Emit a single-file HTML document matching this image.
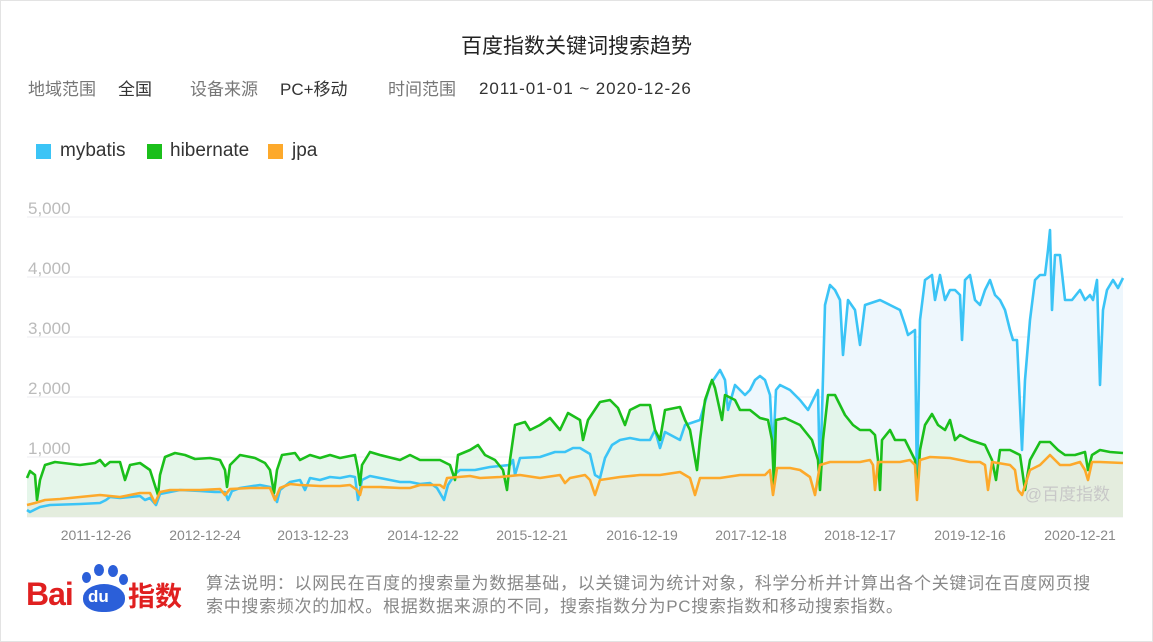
<!DOCTYPE html>
<html><head><meta charset="utf-8"><style>
body{margin:0;width:1153px;height:642px;background:#fff;font-family:"Liberation Sans","Noto Sans CJK SC",sans-serif;overflow:hidden}
.frame{position:absolute;left:0;top:0;width:1151px;height:640px;border:1px solid #e3e3e3}
.t{position:absolute;white-space:nowrap}
.sq{position:absolute;width:15px;height:15px;top:144px}
</style></head><body><div class="frame"></div>
<div class="t" style="left:0;width:1153px;text-align:center;top:30px;font-size:21px;color:#222">百度指数关键词搜索趋势</div>
<div class="t" style="left:28px;top:75px;font-size:17px;color:#777">地域范围</div>
<div class="t" style="left:118px;top:75px;font-size:17px;color:#333">全国</div>
<div class="t" style="left:190px;top:75px;font-size:17px;color:#777">设备来源</div>
<div class="t" style="left:280px;top:75px;font-size:17px;color:#333">PC+移动</div>
<div class="t" style="left:388px;top:75px;font-size:17px;color:#777">时间范围</div>
<div class="t" style="left:479px;top:79px;font-size:17px;color:#333;letter-spacing:0.9px">2011-01-01 ~ 2020-12-26</div>
<div class="sq" style="left:36px;background:#3bc4f6"></div>
<div class="sq" style="left:147px;background:#1bbf1b"></div>
<div class="sq" style="left:268px;background:#fda92b"></div>
<div class="t" style="left:60px;top:140px;font-size:19px;color:#333">mybatis</div>
<div class="t" style="left:170px;top:140px;font-size:19px;color:#333">hibernate</div>
<div class="t" style="left:292px;top:140px;font-size:19px;color:#333">jpa</div>
<svg width="1153" height="642" style="position:absolute;left:0;top:0" font-family="Liberation Sans,sans-serif">
<g stroke="#eceef0" stroke-width="1">
<line x1="27" x2="1123" y1="217" y2="217"/><line x1="27" x2="1123" y1="277" y2="277"/><line x1="27" x2="1123" y1="337" y2="337"/><line x1="27" x2="1123" y1="397" y2="397"/><line x1="27" x2="1123" y1="457" y2="457"/><line x1="27" x2="1123" y1="517" y2="517"/></g>
<g fill="#bbb" font-size="17"><text x="28" y="214">5,000</text><text x="28" y="274">4,000</text><text x="28" y="334">3,000</text><text x="28" y="394">2,000</text><text x="28" y="454">1,000</text></g>
<g fill="#888" font-size="14" text-anchor="middle"><text x="96" y="540">2011-12-26</text><text x="205" y="540">2012-12-24</text><text x="313" y="540">2013-12-23</text><text x="423" y="540">2014-12-22</text><text x="532" y="540">2015-12-21</text><text x="642" y="540">2016-12-19</text><text x="751" y="540">2017-12-18</text><text x="860" y="540">2018-12-17</text><text x="970" y="540">2019-12-16</text><text x="1080" y="540">2020-12-21</text></g>
<polygon fill="#eef7fd" points="27,517 27,510 30,512 40,507 50,505 80,504 100,503 106,500 110,497 120,498 140,496 145,500 150,498 156,505 160,494 170,492 180,490 200,491 215,492 225,492 228,500 232,491 240,488 260,485 270,487 277,502 280,490 290,482 300,480 305,490 310,478 320,480 330,477 340,478 350,476 355,477 358,500 362,480 370,476 380,478 400,482 410,482 420,484 430,483 437,488 444,500 448,485 455,474 460,470 465,470 475,470 490,467 500,466 510,465 513,460 515,475 520,458 540,457 555,452 565,452 573,448 580,448 590,454 595,475 600,478 605,458 612,445 620,440 630,438 640,440 650,440 655,430 660,448 665,432 680,440 685,425 700,420 710,385 720,370 725,380 728,410 735,385 745,395 750,390 755,380 760,376 765,380 770,395 773,455 776,390 780,385 790,390 800,400 808,410 818,390 820,485 825,305 830,285 835,290 840,300 843,355 848,300 855,310 860,345 865,305 880,300 890,305 900,310 905,325 908,335 915,330 917,490 920,320 925,280 932,275 935,300 940,275 945,300 950,290 955,290 960,295 962,340 965,280 970,275 975,300 980,305 985,290 990,280 995,295 1000,300 1005,310 1010,330 1013,340 1017,340 1022,450 1025,380 1030,320 1035,280 1040,275 1045,275 1048,250 1050,230 1052,310 1055,255 1060,255 1065,300 1072,300 1080,290 1085,300 1090,295 1093,300 1097,280 1100,385 1103,310 1107,290 1113,280 1118,288 1123,278 1123,517"/>
<polygon fill="#e0f4e6" fill-opacity="0.85" points="27,517 27,478 30,471 35,475 37,500 40,480 45,465 55,462 80,465 95,463 100,460 105,466 110,462 120,462 125,480 130,465 140,463 150,470 158,495 160,475 165,457 175,453 185,455 195,459 210,458 220,460 225,470 227,487 230,465 240,455 255,458 265,463 270,470 274,493 277,470 282,455 295,453 300,460 310,455 320,458 330,455 340,458 350,456 355,455 358,470 360,485 362,465 370,452 380,455 400,460 410,455 420,460 440,460 450,465 455,480 458,455 470,450 478,445 485,455 495,460 503,470 507,490 510,460 515,425 525,422 530,430 540,425 550,418 560,430 568,413 580,420 583,440 588,420 600,402 610,400 618,408 625,425 630,410 640,405 650,405 655,430 660,440 665,410 680,407 685,420 690,430 697,470 700,440 705,400 712,380 715,388 722,420 725,395 735,400 740,410 750,410 760,418 768,420 772,440 774,485 776,420 785,418 800,425 812,440 818,460 820,490 823,440 828,395 835,395 840,405 845,415 853,425 860,430 870,430 875,435 878,460 880,490 882,440 890,430 895,440 905,440 910,450 915,460 917,495 920,450 925,425 932,414 938,425 945,430 950,420 955,440 960,435 970,440 985,445 992,460 996,480 1000,450 1010,450 1020,455 1025,490 1030,460 1040,442 1050,442 1058,450 1065,455 1075,455 1085,452 1088,470 1092,455 1100,450 1110,452 1123,453 1123,517"/>
<polygon fill="#e3ebdb" fill-opacity="0.8" points="27,517 27,505 35,503 45,500 60,499 80,497 100,495 120,497 140,493 150,493 155,503 160,492 170,490 200,490 220,489 225,495 230,489 250,488 270,488 275,500 280,488 290,484 300,485 320,486 340,486 350,485 357,490 360,495 362,487 380,487 400,488 410,488 420,485 430,485 440,485 444,488 447,478 470,476 480,478 500,477 520,475 540,478 560,475 565,483 570,478 585,475 590,480 595,495 600,480 620,477 640,475 660,475 680,472 690,478 695,495 700,478 720,478 740,475 760,475 765,475 770,470 773,495 777,468 790,468 800,470 810,477 815,495 820,465 830,462 860,462 870,460 873,465 875,490 878,462 900,462 910,460 915,465 917,500 920,460 930,457 950,458 970,462 980,462 985,465 988,490 992,462 1010,465 1015,470 1018,490 1022,495 1030,470 1040,465 1050,455 1060,465 1070,465 1080,462 1085,470 1088,480 1092,462 1100,462 1123,463 1123,517"/>
<polyline fill="none" stroke="#3bc4f6" stroke-width="2.6" stroke-linejoin="round" points="27,510 30,512 40,507 50,505 80,504 100,503 106,500 110,497 120,498 140,496 145,500 150,498 156,505 160,494 170,492 180,490 200,491 215,492 225,492 228,500 232,491 240,488 260,485 270,487 277,502 280,490 290,482 300,480 305,490 310,478 320,480 330,477 340,478 350,476 355,477 358,500 362,480 370,476 380,478 400,482 410,482 420,484 430,483 437,488 444,500 448,485 455,474 460,470 465,470 475,470 490,467 500,466 510,465 513,460 515,475 520,458 540,457 555,452 565,452 573,448 580,448 590,454 595,475 600,478 605,458 612,445 620,440 630,438 640,440 650,440 655,430 660,448 665,432 680,440 685,425 700,420 710,385 720,370 725,380 728,410 735,385 745,395 750,390 755,380 760,376 765,380 770,395 773,455 776,390 780,385 790,390 800,400 808,410 818,390 820,485 825,305 830,285 835,290 840,300 843,355 848,300 855,310 860,345 865,305 880,300 890,305 900,310 905,325 908,335 915,330 917,490 920,320 925,280 932,275 935,300 940,275 945,300 950,290 955,290 960,295 962,340 965,280 970,275 975,300 980,305 985,290 990,280 995,295 1000,300 1005,310 1010,330 1013,340 1017,340 1022,450 1025,380 1030,320 1035,280 1040,275 1045,275 1048,250 1050,230 1052,310 1055,255 1060,255 1065,300 1072,300 1080,290 1085,300 1090,295 1093,300 1097,280 1100,385 1103,310 1107,290 1113,280 1118,288 1123,278"/>
<polyline fill="none" stroke="#1bbf1b" stroke-width="2.6" stroke-linejoin="round" points="27,478 30,471 35,475 37,500 40,480 45,465 55,462 80,465 95,463 100,460 105,466 110,462 120,462 125,480 130,465 140,463 150,470 158,495 160,475 165,457 175,453 185,455 195,459 210,458 220,460 225,470 227,487 230,465 240,455 255,458 265,463 270,470 274,493 277,470 282,455 295,453 300,460 310,455 320,458 330,455 340,458 350,456 355,455 358,470 360,485 362,465 370,452 380,455 400,460 410,455 420,460 440,460 450,465 455,480 458,455 470,450 478,445 485,455 495,460 503,470 507,490 510,460 515,425 525,422 530,430 540,425 550,418 560,430 568,413 580,420 583,440 588,420 600,402 610,400 618,408 625,425 630,410 640,405 650,405 655,430 660,440 665,410 680,407 685,420 690,430 697,470 700,440 705,400 712,380 715,388 722,420 725,395 735,400 740,410 750,410 760,418 768,420 772,440 774,485 776,420 785,418 800,425 812,440 818,460 820,490 823,440 828,395 835,395 840,405 845,415 853,425 860,430 870,430 875,435 878,460 880,490 882,440 890,430 895,440 905,440 910,450 915,460 917,495 920,450 925,425 932,414 938,425 945,430 950,420 955,440 960,435 970,440 985,445 992,460 996,480 1000,450 1010,450 1020,455 1025,490 1030,460 1040,442 1050,442 1058,450 1065,455 1075,455 1085,452 1088,470 1092,455 1100,450 1110,452 1123,453"/>
<polyline fill="none" stroke="#fda92b" stroke-width="2.6" stroke-linejoin="round" points="27,505 35,503 45,500 60,499 80,497 100,495 120,497 140,493 150,493 155,503 160,492 170,490 200,490 220,489 225,495 230,489 250,488 270,488 275,500 280,488 290,484 300,485 320,486 340,486 350,485 357,490 360,495 362,487 380,487 400,488 410,488 420,485 430,485 440,485 444,488 447,478 470,476 480,478 500,477 520,475 540,478 560,475 565,483 570,478 585,475 590,480 595,495 600,480 620,477 640,475 660,475 680,472 690,478 695,495 700,478 720,478 740,475 760,475 765,475 770,470 773,495 777,468 790,468 800,470 810,477 815,495 820,465 830,462 860,462 870,460 873,465 875,490 878,462 900,462 910,460 915,465 917,500 920,460 930,457 950,458 970,462 980,462 985,465 988,490 992,462 1010,465 1015,470 1018,490 1022,495 1030,470 1040,465 1050,455 1060,465 1070,465 1080,462 1085,470 1088,480 1092,462 1100,462 1123,463"/>
<text x="1110" y="500" fill="#c8c8c8" font-size="17" text-anchor="end" font-family="Liberation Sans,Noto Sans CJK SC,sans-serif">@百度指数</text>
</svg>
<div class="t" style="left:26px;top:576px;font-size:32px;font-weight:bold;color:#e02020;letter-spacing:-1px">Bai</div>
<div style="position:absolute;left:83px;top:584px;width:42px;height:28px;background:#2b5fd9;border-radius:50% 50% 45% 45%"></div>
<div style="position:absolute;left:82px;top:572px;width:9px;height:11px;background:#2b5fd9;border-radius:50%"></div>
<div style="position:absolute;left:94px;top:564px;width:10px;height:12px;background:#2b5fd9;border-radius:50%"></div>
<div style="position:absolute;left:108px;top:565px;width:10px;height:12px;background:#2b5fd9;border-radius:50%"></div>
<div style="position:absolute;left:119px;top:574px;width:9px;height:11px;background:#2b5fd9;border-radius:50%"></div>
<div class="t" style="left:88px;top:587px;font-size:17px;font-weight:bold;color:#fff">du</div>
<div class="t" style="left:128px;top:579px;font-size:27px;font-weight:bold;color:#e02020;font-family:'Noto Sans CJK SC',sans-serif;line-height:32px">指数</div>
<div class="t" style="left:206px;top:572px;font-size:17px;color:#888;line-height:23px;white-space:normal;width:900px;letter-spacing:0.7px">算法说明：以网民在百度的搜索量为数据基础，以关键词为统计对象，科学分析并计算出各个关键词在百度网页搜索中搜索频次的加权。根据数据来源的不同，搜索指数分为PC搜索指数和移动搜索指数。</div>
</body></html>
